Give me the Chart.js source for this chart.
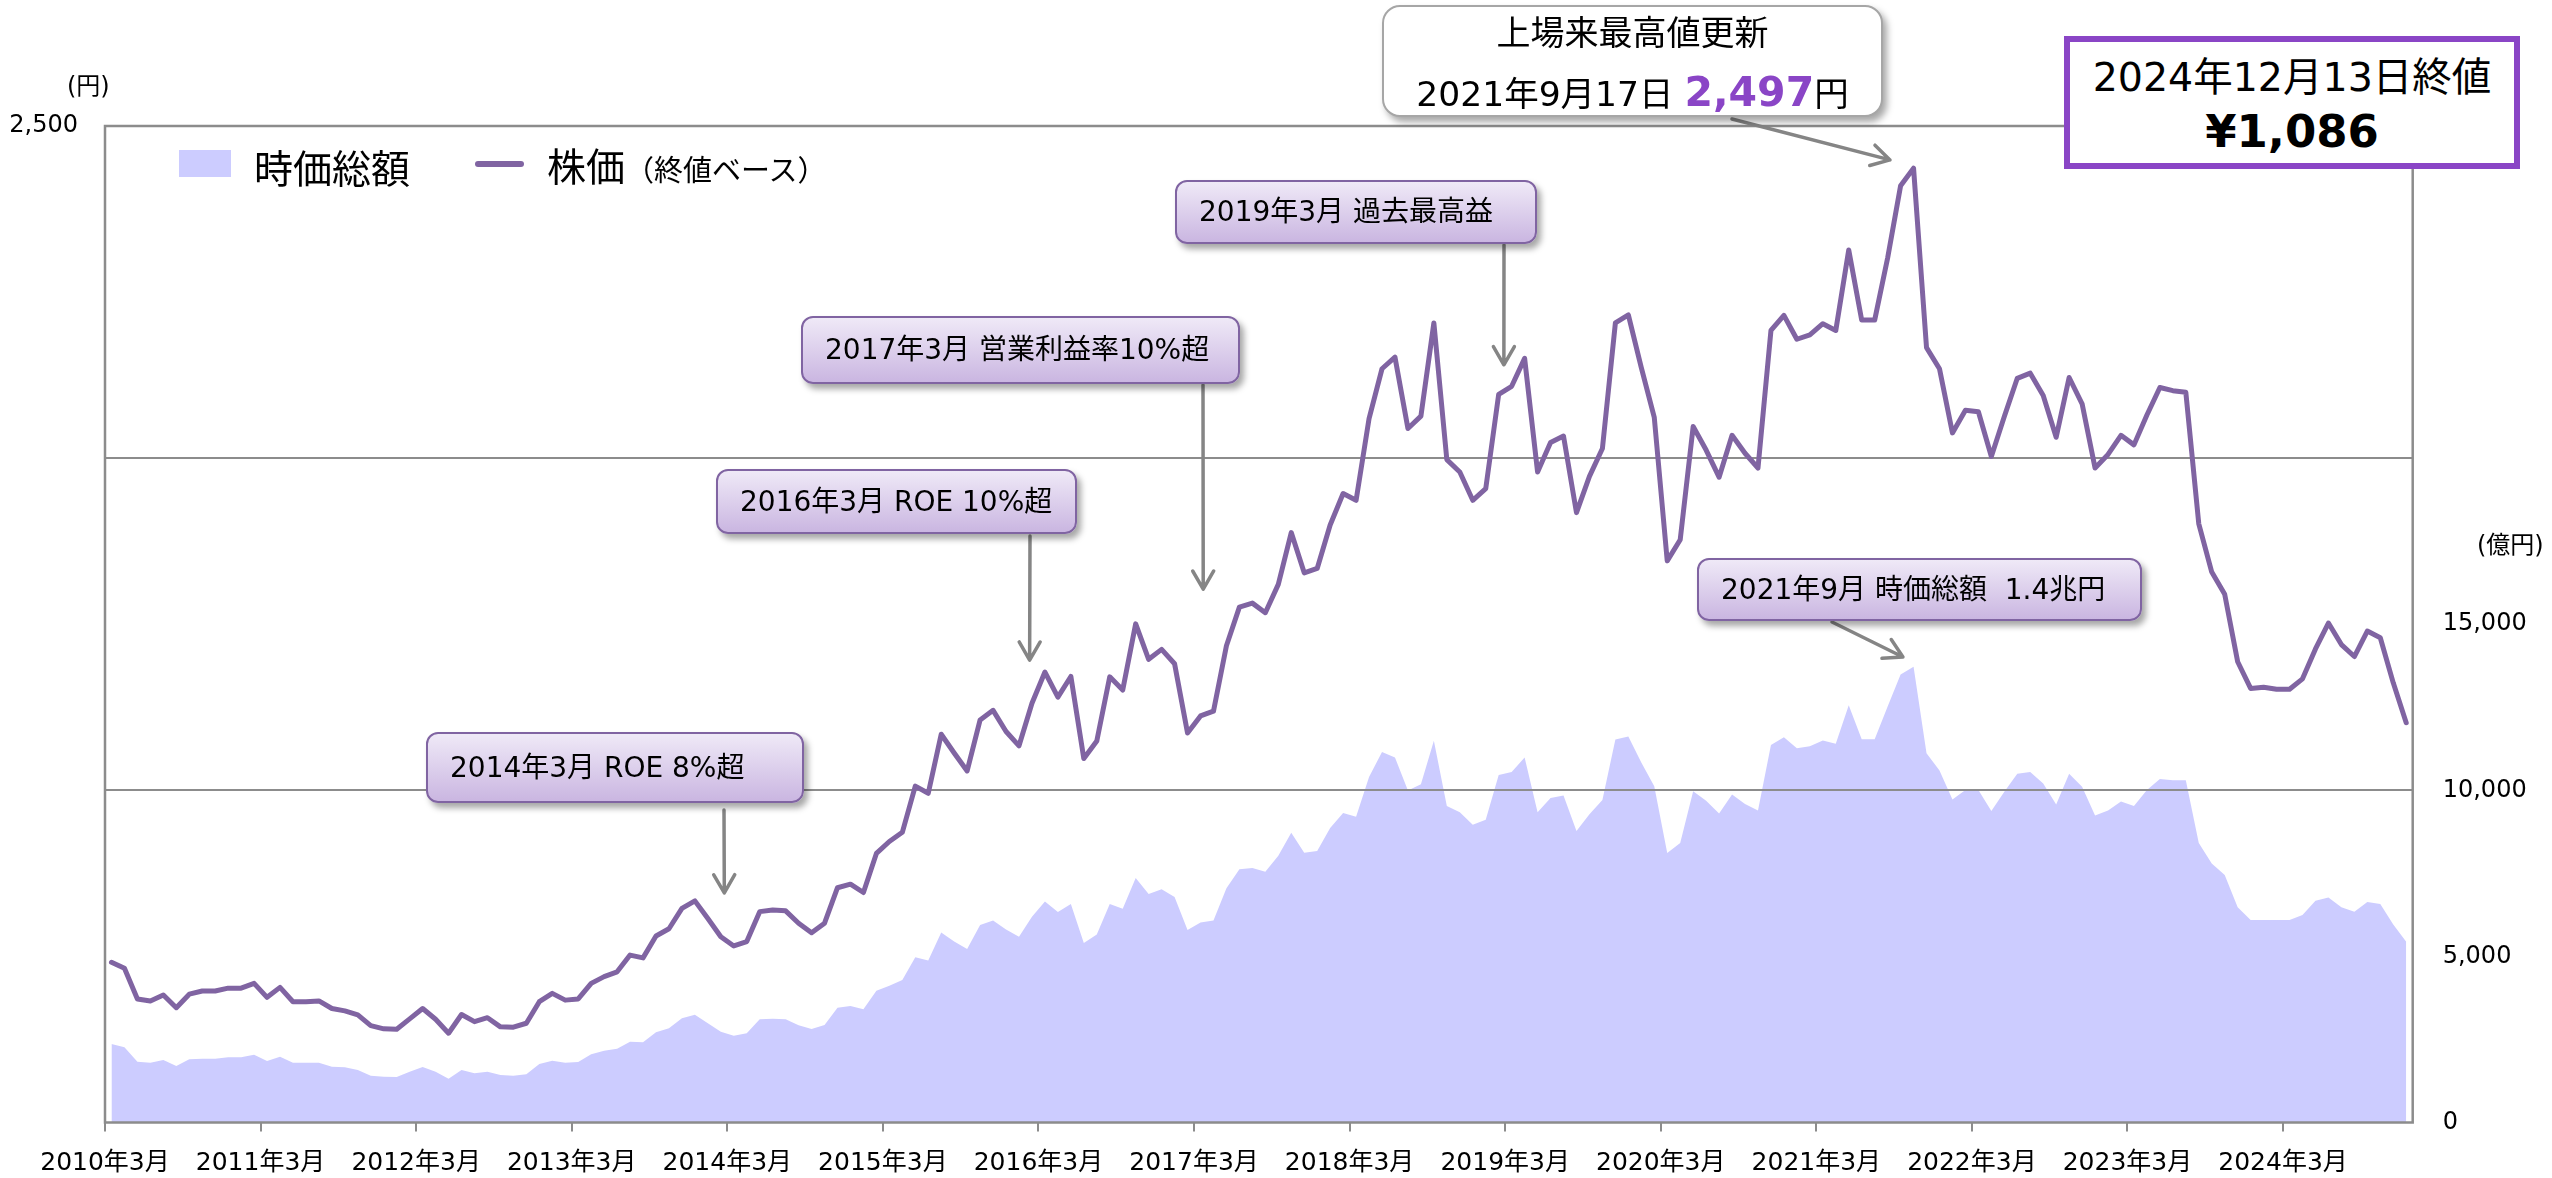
<!DOCTYPE html>
<html lang="ja">
<head>
<meta charset="utf-8">
<title>株価・時価総額の推移</title>
<script src="https://cdn.jsdelivr.net/npm/chart.js@4.4.1/dist/chart.umd.min.js"></script>
<style>
  html, body { margin: 0; padding: 0; background: #fff; }
  body { width: 2552px; height: 1178px; overflow: hidden;
         font-family: "DejaVu Sans", "Noto Sans CJK JP", sans-serif; color: #000; }
  #wrap { position: relative; width: 2552px; height: 1178px; }
  #chart { position: absolute; left: 0; top: 0; }

  .unit { position: absolute; font-size: 24px; line-height: 24px; white-space: nowrap; }

  .legend-swatch { position: absolute; left: 179px; top: 150px; width: 52px; height: 27px; background: #ccccff; }
  .legend-line { position: absolute; left: 475px; top: 161px; width: 49px; height: 6px; border-radius: 3px; background: #8064a2; }
  .legend-text { position: absolute; font-size: 39px; line-height: 40px; white-space: nowrap; font-family: "Noto Sans CJK JP", sans-serif; }
  .legend-text small { font-size: 29px; }

  .note { position: absolute; box-sizing: border-box; display: flex; align-items: center;
          padding-left: 22px; border: 2px solid #8064a2; border-radius: 12px;
          background: linear-gradient(#efe9f7, #cab6e1);
          box-shadow: 4px 5px 6px rgba(0, 0, 0, .35);
          font-size: 28px; line-height: 1; white-space: pre; }

  .peak { position: absolute; left: 1382px; top: 5px; width: 501px; height: 112px; box-sizing: border-box;
          border: 2px solid #a6a6a6; border-radius: 18px; background: #fff;
          box-shadow: 4px 5px 7px rgba(0, 0, 0, .35); }
  .peak div { position: absolute; left: 0; width: 100%; text-align: center; white-space: nowrap; }
  .peak .l1 { top: 9px; font-size: 34px; line-height: 34px; }
  .peak .l2 { top: 64px; font-size: 34.5px; line-height: 42px; }
  .peak b { font-size: 41px; color: #8a45c6; }

  .close { position: absolute; left: 2064px; top: 36px; width: 456px; height: 133px; box-sizing: border-box;
           border: 6px solid #8a45c6; background: #fff; }
  .close div { position: absolute; left: 0; width: 100%; text-align: center; white-space: nowrap; }
  .close .l1 { top: 15px; font-size: 39.5px; line-height: 40px; }
  .close .l2 { top: 67px; font-size: 45px; line-height: 46px; font-weight: bold; }
</style>
</head>
<body>
<div id="wrap">
  <canvas id="chart" width="2552" height="1178"></canvas>

  <div class="unit" style="left:67px; top:74px;">(円)</div>
  <div class="unit" style="left:2477px; top:533px;">(億円)</div>

  <div class="legend-swatch"></div>
  <div class="legend-text" style="left:254px; top:146px;">時価総額</div>
  <div class="legend-line"></div>
  <div class="legend-text" style="left:547px; top:144px;">株価<small>（終値ベース）</small></div>

  <div class="note" style="left:426px; top:732px; width:378px; height:71px;">2014年3月 ROE 8%超</div>
  <div class="note" style="left:716px; top:469px; width:361px; height:65px;">2016年3月 ROE 10%超</div>
  <div class="note" style="left:801px; top:316px; width:439px; height:68px;">2017年3月 営業利益率10%超</div>
  <div class="note" style="left:1175px; top:180px; width:362px; height:64px;">2019年3月 過去最高益</div>
  <div class="note" style="left:1697px; top:558px; width:445px; height:63px;">2021年9月 時価総額  1.4兆円</div>

  <div class="peak">
    <div class="l1">上場来最高値更新</div>
    <div class="l2">2021年9月17日 <b>2,497</b>円</div>
  </div>

  <div class="close">
    <div class="l1">2024年12月13日終値</div>
    <div class="l2">¥1,086</div>
  </div>
</div>

<script>
// year ticks on the month axis (one every 12 months, starting 2010年3月)
const yearLabels = [
  "2010年3月", "2011年3月", "2012年3月", "2013年3月", "2014年3月",
  "2015年3月", "2016年3月", "2017年3月", "2018年3月", "2019年3月",
  "2020年3月", "2021年3月", "2022年3月", "2023年3月", "2024年3月"
];

// monthly close, 円 (2010/3 - 2024/12)
const price = [
  402, 387, 310, 305, 320, 288, 322, 330, 330, 337, 337, 349,
  314, 339, 303, 303, 305, 286, 280, 270, 243, 235, 234, 260,
  286, 259, 224, 271, 253, 263, 240, 239, 249, 303, 324, 307,
  310, 349, 366, 378, 420, 413, 468, 486, 537, 556, 512, 466,
  443, 454, 529, 533, 531, 500, 476, 500, 589, 598, 577, 675,
  705, 728, 844, 826, 974, 927, 882, 1010, 1034, 981, 945, 1052,
  1130, 1067, 1119, 913, 957, 1118, 1085, 1251, 1162, 1187, 1151, 977,
  1020, 1032, 1196, 1293, 1303, 1279, 1350, 1480, 1379, 1390, 1499, 1578,
  1561, 1766, 1891, 1920, 1741, 1772, 2006, 1663, 1632, 1561, 1590, 1827,
  1847, 1917, 1632, 1706, 1722, 1530, 1621, 1691, 2006, 2026, 1894, 1769,
  1409, 1462, 1746, 1687, 1619, 1724, 1679, 1642, 1987, 2025, 1965, 1976,
  2004, 1987, 2189, 2013, 2013, 2169, 2350, 2394, 1944, 1891, 1730, 1787,
  1783, 1671, 1771, 1867, 1880, 1824, 1719, 1869, 1803, 1642, 1676, 1724,
  1700, 1775, 1844, 1836, 1832, 1502, 1381, 1325, 1156, 1089, 1092, 1087,
  1087, 1113, 1188, 1253, 1199, 1169, 1233, 1216, 1103, 1003
];

// monthly market capitalisation, 億円
const marketCap = [
  2363, 2264, 1830, 1800, 1882, 1701, 1902, 1921, 1921, 1963, 1963, 2041,
  1851, 1981, 1800, 1800, 1800, 1680, 1662, 1580, 1409, 1379, 1370, 1529,
  1671, 1529, 1319, 1580, 1481, 1529, 1430, 1410, 1450, 1761, 1861, 1801,
  1821, 2052, 2162, 2222, 2433, 2413, 2714, 2835, 3136, 3246, 2985, 2734,
  2614, 2684, 3106, 3126, 3106, 2925, 2815, 2935, 3456, 3507, 3406, 3968,
  4118, 4290, 4976, 4877, 5720, 5449, 5220, 5949, 6078, 5807, 5590, 6192,
  6650, 6334, 6578, 5404, 5663, 6578, 6436, 7363, 6879, 7020, 6792, 5792,
  6021, 6078, 7050, 7622, 7665, 7550, 8029, 8721, 8122, 8177, 8869, 9320,
  9206, 10404, 11154, 10985, 9995, 10181, 11491, 9525, 9339, 8963, 9113, 10461,
  10555, 10985, 9339, 9769, 9844, 8776, 9282, 9712, 11527, 11624, 10835, 10124,
  8110, 8411, 9974, 9685, 9299, 9878, 9589, 9396, 11365, 11597, 11268, 11326,
  11500, 11404, 12560, 11539, 11539, 12524, 13487, 13719, 11115, 10594, 9724, 10013,
  10013, 9378, 9956, 10498, 10555, 10206, 9570, 10498, 10109, 9242, 9396, 9667,
  9531, 10013, 10341, 10302, 10302, 8411, 7794, 7448, 6482, 6096, 6096, 6096,
  6096, 6250, 6674, 6770, 6482, 6346, 6635, 6578, 5961, 5440
];

const priceTicks = [2500];
const capTicks = [0, 5000, 10000, 15000];
const capGrid = [10000, 20000];

// arrows from the note boxes down to the chart (tip in data units)
const arrows = [
  { from: [724, 810], x: 47.77, y: 576, axis: "price" },
  { from: [1030, 536], x: 71.32, y: 1160, axis: "price" },
  { from: [1203, 385], x: 84.71, y: 1338, axis: "price" },
  { from: [1504, 245], x: 107.9, y: 1901, axis: "price" },
  { from: [1732, 119], x: 137.68, y: 2415, axis: "price" },
  { from: [1832, 622], x: 138.68, y: 14014, axis: "cap" }
];

const FONT = "'DejaVu Sans', 'Noto Sans CJK JP', sans-serif";
const GRID = "#8c8c8c";

// grid lines and plot frame go on top of the area but under the price line
const framePlugin = {
  id: "plotFrame",
  afterDatasetDraw(chart, args) {
    if (chart.data.datasets[args.index].yAxisID !== "cap") return;
    const { ctx, chartArea: a, scales } = chart;
    ctx.save();
    ctx.strokeStyle = GRID;
    ctx.lineWidth = 2;
    capGrid.forEach(v => {
      const y = Math.round(scales.cap.getPixelForValue(v));
      ctx.beginPath();
      ctx.moveTo(a.left, y);
      ctx.lineTo(a.right, y);
      ctx.stroke();
    });
    ctx.lineWidth = 2.5;
    ctx.strokeRect(a.left, a.top, a.right - a.left, a.bottom - a.top);
    ctx.restore();
  }
};

const arrowPlugin = {
  id: "noteArrows",
  afterDatasetsDraw(chart) {
    const { ctx, scales } = chart;
    ctx.save();
    ctx.strokeStyle = "#858585";
    ctx.lineWidth = 3.5;
    ctx.lineCap = "round";
    ctx.lineJoin = "round";
    arrows.forEach(a => {
      const [fx, fy] = a.from;
      const tx = scales.x.getPixelForValue(a.x);
      const ty = scales[a.axis].getPixelForValue(a.y);
      const ang = Math.atan2(ty - fy, tx - fx);
      const head = 21, spread = Math.PI / 6;
      ctx.beginPath();
      ctx.moveTo(fx, fy);
      ctx.lineTo(tx, ty);
      ctx.moveTo(tx - head * Math.cos(ang - spread), ty - head * Math.sin(ang - spread));
      ctx.lineTo(tx, ty);
      ctx.lineTo(tx - head * Math.cos(ang + spread), ty - head * Math.sin(ang + spread));
      ctx.stroke();
    });
    ctx.restore();
  }
};

new Chart(document.getElementById("chart").getContext("2d"), {
  type: "line",
  data: {
    datasets: [
      {
        label: "株価",
        data: price.map((v, i) => ({ x: i + 0.5, y: v })),
        yAxisID: "price",
        borderColor: "#8064a2",
        borderWidth: 5,
        borderJoinStyle: "round",
        borderCapStyle: "round",
        pointRadius: 0,
        tension: 0,
        fill: false
      },
      {
        label: "時価総額",
        data: marketCap.map((v, i) => ({ x: i + 0.5, y: v })),
        yAxisID: "cap",
        backgroundColor: "#ccccff",
        borderWidth: 0,
        pointRadius: 0,
        tension: 0,
        fill: "origin"
      }
    ]
  },
  options: {
    responsive: false,
    animation: false,
    devicePixelRatio: 1,
    layout: { padding: { top: 126, left: 0, right: 0, bottom: 0 } },
    plugins: { legend: { display: false }, tooltip: { enabled: false } },
    scales: {
      x: {
        type: "linear",
        position: "bottom",
        min: 0,
        max: 178,
        afterBuildTicks: s => { s.ticks = yearLabels.map((_, k) => ({ value: k * 12 })); },
        afterFit: s => { s.height = 55.5; },
        ticks: {
          callback: v => yearLabels[v / 12],
          font: { family: FONT, size: 25 },
          color: "#000",
          padding: 17,
          maxRotation: 0,
          autoSkip: false
        },
        grid: { drawOnChartArea: false, drawTicks: true, tickLength: 9, color: GRID, lineWidth: 2 },
        border: { display: false }
      },
      price: {
        type: "linear",
        position: "left",
        min: 0,
        max: 2500,
        afterBuildTicks: s => { s.ticks = priceTicks.map(v => ({ value: v })); },
        afterFit: s => { s.width = 105; },
        ticks: {
          callback: v => v.toLocaleString("en-US"),
          font: { family: FONT, size: 24 },
          color: "#000",
          padding: 19
        },
        grid: { display: false },
        border: { display: false }
      },
      cap: {
        type: "linear",
        position: "right",
        min: 0,
        max: 30000,
        afterBuildTicks: s => { s.ticks = capTicks.map(v => ({ value: v })); },
        afterFit: s => { s.width = 139.3; },
        ticks: {
          callback: v => v.toLocaleString("en-US"),
          font: { family: FONT, size: 24 },
          color: "#000",
          padding: 22
        },
        grid: { display: false },
        border: { display: false }
      }
    }
  },
  plugins: [framePlugin, arrowPlugin]
});
</script>
</body>
</html>
